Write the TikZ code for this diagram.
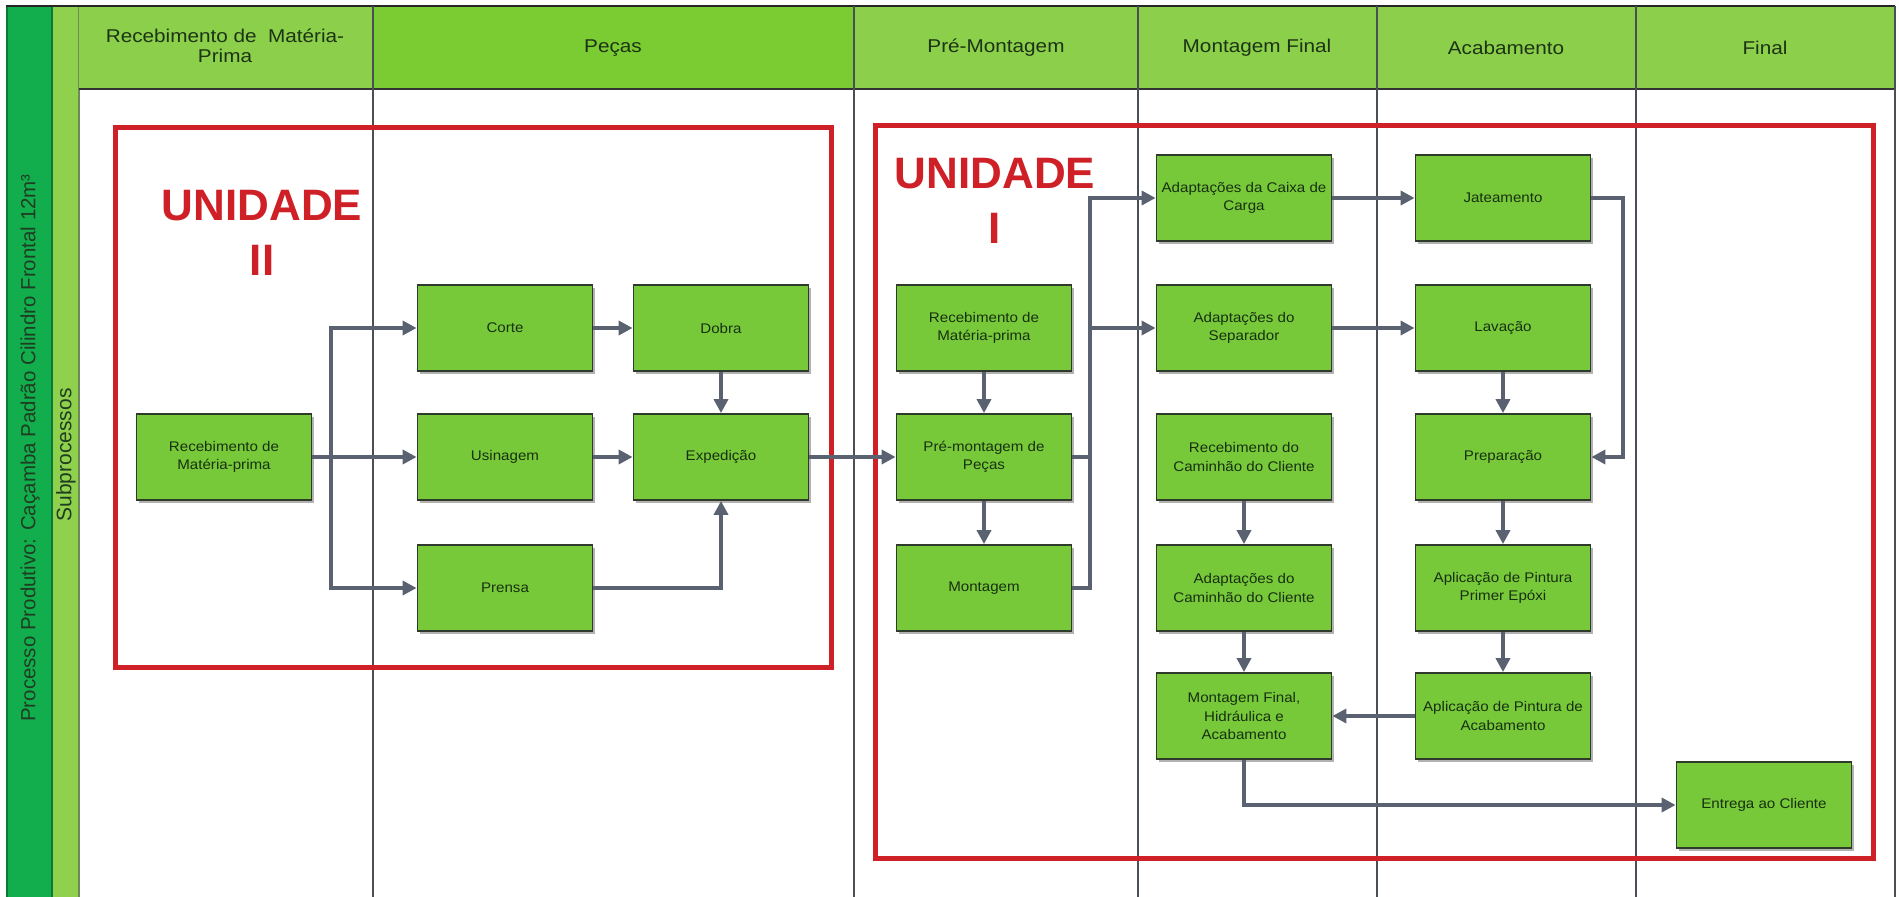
\documentclass[tikz,border=0pt]{standalone}
\usepackage{fontspec}
\setmainfont{Liberation Sans}
\newfontfamily\boxfont[FakeStretch=1.08]{Liberation Sans}
\newfontfamily\headfont[FakeStretch=1.12]{Liberation Sans}
\usetikzlibrary{arrows.meta,shadows}

\definecolor{bandDark}{HTML}{12AE4E}
\definecolor{bandDarkEdge}{HTML}{0B7A36}
\definecolor{bandLight}{HTML}{8FD04C}
\definecolor{bandLightEdge}{HTML}{6E8A58}
\definecolor{headFill}{HTML}{8CCF4B}
\definecolor{headFillB}{HTML}{7BCB33}
\definecolor{headText}{HTML}{1C3314}
\definecolor{gridc}{HTML}{4A4F55}
\definecolor{boxFill}{HTML}{78C93A}
\definecolor{boxLine}{HTML}{2E3B2A}
\definecolor{boxText}{HTML}{173010}
\definecolor{flowc}{HTML}{5A6170}
\definecolor{unitRed}{HTML}{CF2027}
\definecolor{bandText}{HTML}{1F3D22}

\begin{document}
\begin{tikzpicture}[x=1pt,y=-1pt,
  stepbox/.style={draw=boxLine, line width=1.8pt, fill=boxFill,
    minimum width=175pt, minimum height=86pt, inner sep=2pt, align=center,
    text=boxText, font=\boxfont\fontsize{14}{18.5}\selectfont,
    drop shadow={shadow xshift=2.5pt, shadow yshift=-2.5pt, fill=black!60, opacity=.5}},
  flow/.style={draw=flowc, line width=3.5pt, -{Triangle[length=14pt,width=14pt]}},
  headlabel/.style={align=center, text=headText, font=\headfont\fontsize{18.5}{20}\selectfont},
  unitlabel/.style={align=center, text=unitRed, font=\fontsize{44}{55}\selectfont\bfseries},
  unitframe/.style={draw=unitRed, line width=5pt},
  gridline/.style={draw=gridc, line width=1.6pt}
]
\useasboundingbox (0,0) rectangle (1899,897);
\fill[white] (0,0) rectangle (1899,897);

% side bands
\fill[bandDark] (6,6) rectangle (53,897);
\draw[bandDarkEdge, line width=1.5pt] (7,6) -- (7,897) (52,6) -- (52,897);
\fill[bandLight] (53,6) rectangle (79,897);
\draw[bandLightEdge, line width=1.5pt] (79,6) -- (79,897);

% header row
\fill[headFill] (79,6) rectangle (373,89);
\fill[headFillB] (373,6) rectangle (854,89);
\fill[headFill] (854,6) rectangle (1895,89);
\draw[draw=black!85, line width=2pt] (6,6) -- (1895,6);
\draw[draw=black!80, line width=2pt] (79,89) -- (1895,89);
\foreach \cx in {373,854,1138,1377,1636,1895}
  \draw[gridline] (\cx,6) -- (\cx,897);

\node[headlabel] (h1) at (225,46) {Recebimento de\ \ Matéria-\\Prima};
\node[headlabel] (h2) at (613,48) {Peças};
\node[headlabel] (h3) at (996,48) {Pré-Montagem};
\node[headlabel] (h4) at (1257,48) {Montagem Final};
\node[headlabel] (h5) at (1506,48) {Acabamento};
\node[headlabel] (h6) at (1765,48) {Final};

% side band labels
\node[rotate=90, text=bandText, font=\fontsize{20.5}{24}\selectfont] (proc) at (30,448)
  {Processo Produtivo: Caçamba Padrão Cilindro Frontal 12m³};
\node[rotate=90, text=bandText, font=\fontsize{21}{24}\selectfont] (subp) at (66,455)
  {Subprocessos};

% unit frames
\draw[unitframe] (115,127) rectangle (831,667);
\draw[unitframe] (875,125) rectangle (1873,858);
\node[unitlabel] (u2) at (262,233) {UNIDADE\\II};
\node[unitlabel] (u1) at (995,201) {UNIDADE\\I};

% process steps, unit II
\node[stepbox] (rmA)    at (224,457) {Recebimento de\\Matéria-prima};
\node[stepbox] (corte)  at (505,328) {Corte};
\node[stepbox] (dobra)  at (721,328) {Dobra};
\node[stepbox] (usin)   at (505,457) {Usinagem};
\node[stepbox] (exped)  at (721,457) {Expedição};
\node[stepbox] (prensa) at (505,588) {Prensa};

% process steps, unit I
\node[stepbox] (rmB)     at (984,328) {Recebimento de\\Matéria-prima};
\node[stepbox] (premont) at (984,457) {Pré-montagem de\\Peças};
\node[stepbox] (mont)    at (984,588) {Montagem};
\node[stepbox] (caixa)   at (1244,198) {Adaptações da Caixa de\\Carga};
\node[stepbox] (separ)   at (1244,328) {Adaptações do\\Separador};
\node[stepbox] (rcam)    at (1244,457) {Recebimento do\\Caminhão do Cliente};
\node[stepbox] (acam)    at (1244,588) {Adaptações do\\Caminhão do Cliente};
\node[stepbox] (mfinal)  at (1244,716) {Montagem Final,\\Hidráulica e\\Acabamento};
\node[stepbox] (jat)     at (1503,198) {Jateamento};
\node[stepbox] (lav)     at (1503,328) {Lavação};
\node[stepbox] (prep)    at (1503,457) {Preparação};
\node[stepbox] (primer)  at (1503,588) {Aplicação de Pintura\\Primer Epóxi};
\node[stepbox] (apacab)  at (1503,716) {Aplicação de Pintura de\\Acabamento};
\node[stepbox] (entrega) at (1764,805) {Entrega ao Cliente};

% branch points
\coordinate (bA) at (331,457);
\coordinate (bD) at (1090,457);
\coordinate (bF) at (1623,198);

% connectors, unit II
\draw[flow] (rmA.east) -- (bA) |- (corte.west);
\draw[flow] (rmA.east) -- (usin.west);
\draw[flow] (rmA.east) -- (bA) |- (prensa.west);
\draw[flow] (corte) -- (dobra);
\draw[flow] (dobra) -- (exped);
\draw[flow] (usin) -- (exped);
\draw[flow] (prensa.east) -| (exped.south);
\draw[flow] (exped) -- (premont);

% connectors, unit I
\draw[flow] (rmB) -- (premont);
\draw[flow] (premont) -- (mont);
\draw[flow] (mont.east) -| (bD) |- (caixa.west);
\draw[flow] (premont.east) -- (bD) |- (separ.west);
\draw[flow] (caixa) -- (jat);
\draw[flow] (separ) -- (lav);
\draw[flow] (jat.east) -- (bF) |- (prep.east);
\draw[flow] (lav) -- (prep);
\draw[flow] (prep) -- (primer);
\draw[flow] (primer) -- (apacab);
\draw[flow] (apacab) -- (mfinal);
\draw[flow] (rcam) -- (acam);
\draw[flow] (acam) -- (mfinal);
\draw[flow] (mfinal.south) |- (entrega.west);
\end{tikzpicture}
\end{document}
